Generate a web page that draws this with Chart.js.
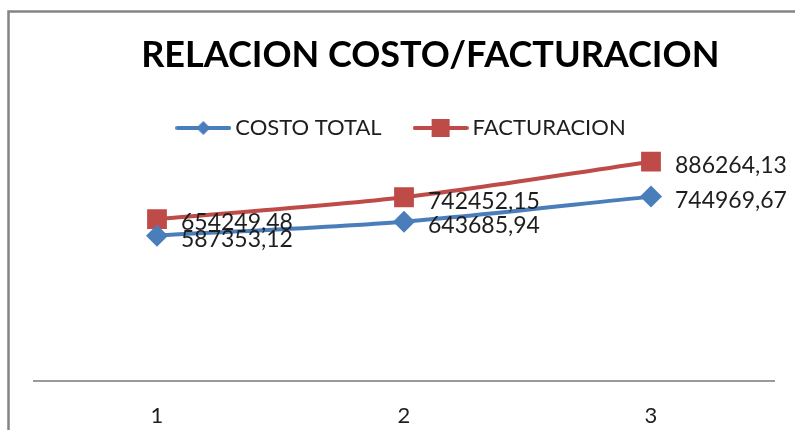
<!DOCTYPE html>
<html>
<head>
<meta charset="utf-8">
<script src="https://cdn.jsdelivr.net/npm/chart.js@4"></script>
<style>
  html, body { margin: 0; padding: 0; background: #fff; overflow: hidden; }
  #wrap { position: relative; width: 827px; height: 430px; }
</style>
</head>
<body>
<div id="wrap"><canvas id="chart"></canvas></div>
<script>
// Data
const categories = ['1', '2', '3'];
const costoTotal = [587353.12, 643685.94, 744969.67];
const facturacion = [654249.48, 742452.15, 886264.13];

const BLUE = '#4A7EBB';
const RED = '#BE4B48';

// legend symbol: a short line with the marker in the middle
function legendSymbol(color, shape) {
  const c = document.createElement('canvas');
  c.width = 56;
  c.height = 22;
  const g = c.getContext('2d');
  g.strokeStyle = color;
  g.lineWidth = 4;
  g.lineCap = 'round';
  g.beginPath();
  g.moveTo(2, 11);
  g.lineTo(54, 11);
  g.stroke();
  g.fillStyle = color;
  if (shape === 'diamond') {
    g.beginPath();
    g.moveTo(28, 4);
    g.lineTo(35, 11);
    g.lineTo(28, 18);
    g.lineTo(21, 11);
    g.closePath();
    g.fill();
  } else {
    g.fillRect(19, 2, 18, 18);
  }
  return c;
}

// chart frame border + white background
const framePlugin = {
  id: 'frame',
  beforeDraw(chart) {
    const ctx = chart.ctx;
    ctx.save();
    ctx.fillStyle = '#fff';
    ctx.fillRect(0, 0, chart.width, chart.height);
    ctx.strokeStyle = '#848484';
    ctx.lineWidth = 2.5;
    ctx.strokeRect(8.5, 11.5, 1000, 1000);
    ctx.restore();
  }
};

// nudge the legend down so it sits just above the plot area
const legendShift = {
  id: 'legendShift',
  afterLayout(chart) {
    if (chart.legend) {
      chart.legend.top += 15.5;
      chart.legend.bottom += 15.5;
    }
  }
};

// value labels to the right of each point
const valueLabels = {
  id: 'valueLabels',
  afterDatasetsDraw(chart) {
    const ctx = chart.ctx;
    ctx.save();
    ctx.font = '23px Lato';
    ctx.fillStyle = '#1e1e1e';
    ctx.textBaseline = 'middle';
    ctx.textAlign = 'left';
    chart.data.datasets.forEach((ds, i) => {
      const meta = chart.getDatasetMeta(i);
      meta.data.forEach((pt, j) => {
        const txt = ds.data[j].toFixed(2).replace('.', ',');
        ctx.fillText(txt, pt.x + 24, pt.y + 4);
      });
    });
    ctx.restore();
  }
};

const ctx = document.getElementById('chart').getContext('2d');
new Chart(ctx, {
  type: 'line',
  data: {
    labels: categories,
    datasets: [
      {
        label: 'COSTO TOTAL',
        data: costoTotal,
        borderColor: BLUE,
        backgroundColor: BLUE,
        borderWidth: 4,
        pointStyle: 'rectRot',
        pointRadius: 11,
        pointHoverRadius: 11,
        pointBorderWidth: 0,
        tension: 0.3,
        symbol: legendSymbol(BLUE, 'diamond')
      },
      {
        label: 'FACTURACION',
        data: facturacion,
        borderColor: RED,
        backgroundColor: RED,
        borderWidth: 4,
        pointStyle: 'rect',
        pointRadius: 14,
        pointHoverRadius: 14,
        pointBorderWidth: 0,
        tension: 0.3,
        symbol: legendSymbol(RED, 'square')
      }
    ]
  },
  options: {
    responsive: true,
    maintainAspectRatio: false,
    animation: false,
    layout: { padding: { left: 33.5, right: 0, top: 0, bottom: 0 } },
    plugins: {
      title: {
        display: true,
        text: 'RELACION COSTO/FACTURACION',
        color: '#000',
        font: { family: 'Lato', size: 36, weight: 'bold' },
        padding: { top: 33.4, bottom: -13.1 }
      },
      legend: {
        display: true,
        position: 'top',
        fullSize: false,
        labels: {
          usePointStyle: true,
          pointStyleWidth: 42,
          padding: 38,
          color: '#1e1e1e',
          font: { family: 'Lato', size: 22 },
          generateLabels(chart) {
            const items = Chart.defaults.plugins.legend.labels.generateLabels(chart);
            items.forEach(it => {
              it.pointStyle = chart.data.datasets[it.datasetIndex].symbol;
            });
            return items;
          }
        }
      },
      tooltip: { enabled: false }
    },
    scales: {
      x: {
        offset: true,
        grid: { display: false, drawTicks: false, tickLength: 0 },
        border: { display: true, color: '#999', width: 2 },
        ticks: {
          color: '#1e1e1e',
          font: { family: 'Lato', size: 22 },
          padding: 22
        },
        afterFit(scale) { scale.height = 49; }
      },
      y: {
        display: false,
        min: 0,
        max: 1000000
      },
      y2: {
        position: 'right',
        display: true,
        min: 0,
        max: 1,
        grid: { display: false, drawTicks: false },
        border: { display: false },
        ticks: { display: false },
        afterFit(scale) { scale.width = 52.5; }
      }
    }
  },
  plugins: [framePlugin, legendShift, valueLabels]
});
</script>
</body>
</html>
